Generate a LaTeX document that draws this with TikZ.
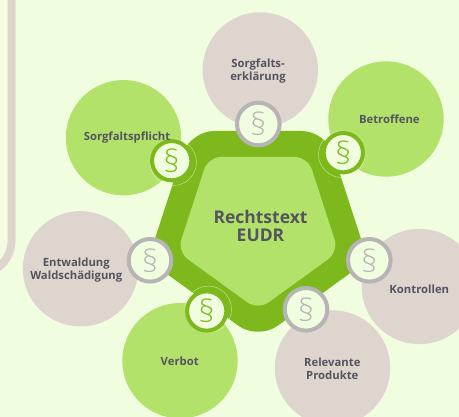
\documentclass[tikz,border=0pt]{standalone}
\usepackage{fontspec}
\setmainfont{Open Sans}
\newfontfamily\paragraphfont{Open Sans Light}
\definecolor{pagebg}{HTML}{F0FEDF}
\definecolor{lightgreen}{HTML}{B3E26A}
\definecolor{darkgreen}{HTML}{7DB91C}
\definecolor{beige}{HTML}{DED5CF}
\definecolor{ringgray}{HTML}{B7B4B5}
\definecolor{textgray}{HTML}{55555F}

\begin{document}
\begin{tikzpicture}[x=1pt,y=-1pt]
        \tikzstyle{topic}=[circle, inner sep=0pt, minimum size=115.4pt]
        \tikzstyle{greentopic}=[topic, fill=lightgreen]
        \tikzstyle{graytopic}=[topic, fill=beige]
        \tikzstyle{topictext}=[align=center, text=textgray, font=\fontsize{11.3}{13}\selectfont\bfseries]
        \tikzstyle{badge}=[circle, inner sep=0pt, minimum size=42.6pt, line width=4pt, fill=pagebg, font=\fontsize{31}{31}\paragraphfont]
        \tikzstyle{greenbadge}=[badge, minimum size=39.3pt, draw=darkgreen, text=darkgreen]
        \tikzstyle{graybadge}=[badge, draw=ringgray, text=ringgray]
        \tikzstyle{halo}=[circle, inner sep=0pt, minimum size=46.4pt, draw=pagebg, draw opacity=.55, line width=.5pt]

        \fill[pagebg] (0,0) rectangle (459,417);
        \useasboundingbox (0,0) rectangle (459,417);

        % frame on the left
        \draw[beige, line width=8pt] (11.7,-5) -- (11.7,238) .. controls (11.7,253) and (6,262) .. (-4,269);

        % pentagon
        \fill[darkgreen, rounded corners=24pt] (190,131) -- (326,131) -- (368,260.2) -- (258,340) -- (148,260.2) -- cycle;
        \fill[lightgreen, rounded corners=13pt] (208.2,157) -- (307.8,157) -- (338.6,251.7) -- (258,310) -- (177.4,251.7) -- cycle;
        \node[align=center, text=textgray, font=\fontsize{17.5}{18}\selectfont\bfseries] (eudr) at (260.5,225.5) {Rechtstext\\EUDR};

        \node[greentopic] (pflicht) at (123.5,137.7) {};
        \node[graytopic] (erklaerung) at (260.3,70) {};
        \node[greentopic] (betroffene) at (386,119) {};
        \node[graytopic] (kontrollen) at (419.4,286.5) {};
        \node[graytopic] (produkte) at (332.5,368) {};
        \node[greentopic] (verbot) at (180,360.7) {};
        \node[graytopic] (entwaldung) at (80.5,268.8) {};

        \node[halo] (pflichth) at (173.3,162.3) {};
        \node[halo] (betroffeneh) at (341.7,154.3) {};
        \node[halo] (verboth) at (208.3,309.3) {};

        \node[greenbadge] (pflichtb) at (171.7,160.7) {§};
        \node[graybadge] (erklaerungb) at (258.3,124) {§};
        \node[greenbadge] (betroffeneb) at (343.3,152.7) {§};
        \node[graybadge] (kontrollenb) at (369.3,260.3) {§};
        \node[graybadge] (produkteb) at (306,309.3) {§};
        \node[greenbadge] (verbotb) at (206.7,311) {§};
        \node[graybadge] (entwaldungb) at (150,260.3) {§};

        \node[topictext] (pflichtt) at (127,138) {Sorgfaltspflicht};
        \node[topictext] (erklaerungt) at (258,71.5) {Sorgfalts-\\erklärung};
        \node[topictext] (betroffenet) at (389.3,119) {Betroffene};
        \node[topictext] (kontrollent) at (419.3,289.7) {Kontrollen};
        \node[topictext] (produktet) at (332.3,368.5) {Relevante\\Produkte};
        \node[topictext] (verbott) at (179.7,361) {Verbot};
        \node[topictext] (entwaldungt) at (76.3,270.5) {Entwaldung\\Waldschädigung};
    \end{tikzpicture}
\end{document}
